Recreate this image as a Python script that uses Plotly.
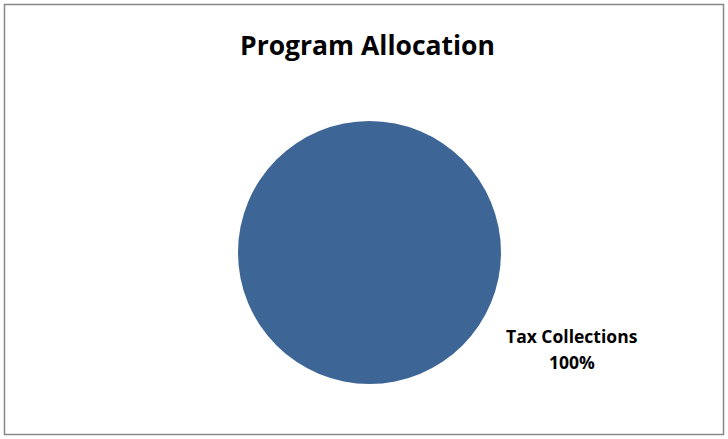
import plotly.graph_objects as go

labels = ["Tax Collections"]
values = [100]
colors = ["#3D6596"]
title_text = "Program Allocation"

W, H = 728, 439
total = sum(values)
pct = [v / total * 100 for v in values]
FONT = "Open Sans, Lato, sans-serif"

fig = go.Figure()
fig.add_trace(go.Pie(
    labels=labels, values=values,
    marker=dict(colors=colors, line=dict(width=0)),
    textinfo="none", hoverinfo="label+percent",
    sort=False, showlegend=False,
    domain=dict(x=[238 / W, 501 / W], y=[1 - 384 / H, 1 - 121 / H]),
))

label_lines = [(f"<b>{labels[0]}</b>", 336), (f"<b>{pct[0]:.0f}%</b>", 362)]
for txt, ypx in label_lines:
    fig.add_annotation(
        x=571.5 / W, y=1 - ypx / H, xref="paper", yref="paper",
        xanchor="center", yanchor="middle",
        text=txt, showarrow=False,
        font=dict(family=FONT, size=17.5, color="#000000"),
        align="center",
    )

fig.add_shape(type="rect", xref="paper", yref="paper",
              x0=4.5 / W, x1=723.5 / W, y0=1 - 434.5 / H, y1=1 - 4.5 / H,
              line=dict(color="#878787", width=1.5))

fig.update_layout(
    width=W, height=H,
    margin=dict(l=0, r=0, t=0, b=0),
    paper_bgcolor="#FFFFFF", plot_bgcolor="#FFFFFF",
    title=dict(text=f"<b>{title_text}</b>", x=367.5 / W, xanchor="center",
               y=1 - 46 / H, yanchor="middle",
               font=dict(family=FONT, size=26.5, color="#000000")),
)

fig.write_html("out.html", config={"displayModeBar": False},
               post_script="document.body.style.margin='0';document.body.style.padding='0';")
